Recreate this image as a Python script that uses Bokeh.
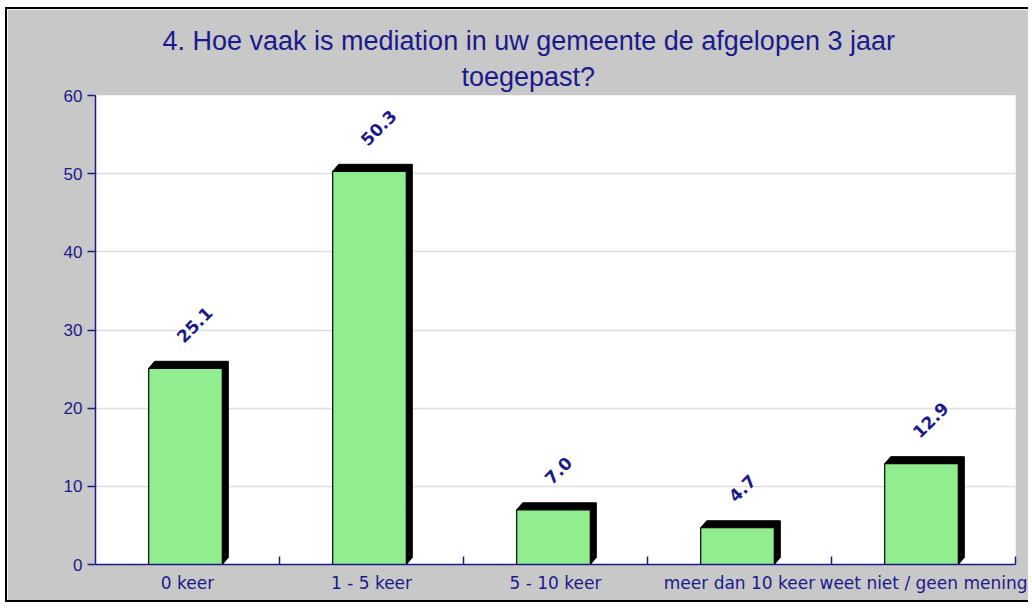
from bokeh.plotting import figure
from bokeh.models import Range1d, FixedTicker, Title, CustomJSTickFormatter
from bokeh.embed import file_html
from bokeh.resources import INLINE
from bokeh.core.properties import value

# ---- data ----
title_lines = ["4. Hoe vaak is mediation in uw gemeente de afgelopen 3 jaar", "toegepast?"]
categories = ["0 keer", "1 - 5 keer", "5 - 10 keer", "meer dan 10 keer", "weet niet / geen mening"]
values = [25.1, 50.3, 7.0, 4.7, 12.9]
y_ticks = [0, 10, 20, 30, 40, 50, 60]

# ---- styling / layout constants ----
NAVY = "#1a1a8c"
BG = "#c8c8c8"
GREEN = "#90ee90"
W, H = 1023, 595
ML, MT, MR, MB = 88, 86, 15, 40
frame_w = W - ML - MR
frame_h = H - MT - MB
n = len(categories)
x_lo, x_hi = -0.5, n - 0.5
y_lo, y_hi = 0, 60
px_x = (x_hi - x_lo) / frame_w
px_y = (y_hi - y_lo) / frame_h

p = figure(width=W, height=H, output_backend="svg", toolbar_location=None,
           x_range=Range1d(x_lo, x_hi), y_range=Range1d(y_lo, y_hi),
           min_border_left=ML, min_border_top=MT, min_border_right=MR, min_border_bottom=MB,
           background_fill_color="white", border_fill_color=BG,
           margin=(7, 0, 0, 5),
           styles={"border-left": "2px solid black", "border-top": "2px solid black",
                   "border-bottom": "2px solid black", "border-right": "0px none"})
p.outline_line_color = None
p.xgrid.grid_line_color = None
p.ygrid.grid_line_color = "#dedede"
p.ygrid.grid_line_width = 1.5

# 3D shadow behind each bar
bw = 0.4
shift = -2 * px_x
dx = 6 * px_x
dy = 7 * px_y
xc = [i + shift for i in range(n)]
xs, ys = [], []
for c, v in zip(xc, values):
    x0, x1 = c - bw / 2, c + bw / 2
    xs.append([x0, x0 + dx, x1 + dx, x1 + dx, x1])
    ys.append([v, v + dy, v + dy, dy, 0])
p.patches(xs, ys, fill_color="black", line_color="black", line_width=1)

p.vbar(x=xc, top=values, width=bw, bottom=0,
       fill_color=GREEN, line_color="black", line_width=1.2)

p.text(x=xc, y=values, text=[f"{v:.1f}" for v in values],
       angle=45, angle_units="deg", text_align="left", text_baseline="middle",
       x_offset=-6, y_offset=-29, text_color=NAVY,
       text_font=value("DejaVu Sans"), text_font_style="bold", text_font_size="17px")

# axes
p.yaxis.ticker = FixedTicker(ticks=y_ticks)
p.yaxis.major_tick_out = 8
p.yaxis.major_tick_in = 0
p.yaxis.minor_tick_out = 0
p.yaxis.minor_tick_in = 0
p.yaxis.axis_line_color = NAVY
p.yaxis.axis_line_width = 1.5
p.yaxis.major_tick_line_color = NAVY
p.yaxis.major_tick_line_width = 1.5
p.yaxis.major_label_text_color = NAVY
p.yaxis.major_label_text_font = "Liberation Sans"
p.yaxis.major_label_text_font_size = "17px"
p.yaxis.major_label_standoff = 5

p.xaxis.ticker = FixedTicker(ticks=list(range(n)), minor_ticks=[i + 0.5 for i in range(n)])
p.xaxis.formatter = CustomJSTickFormatter(args=dict(cats=categories),
                                          code="const c = cats[Math.round(tick)]; return c === undefined ? '' : c;")
p.xaxis.major_tick_in = 0
p.xaxis.major_tick_out = 0
p.xaxis.minor_tick_in = 8
p.xaxis.minor_tick_out = 0
p.xaxis.minor_tick_line_color = NAVY
p.xaxis.minor_tick_line_width = 1.5
p.xaxis.axis_line_color = NAVY
p.xaxis.axis_line_width = 1.5
p.xaxis.major_label_text_color = NAVY
p.xaxis.major_label_text_font = "DejaVu Sans"
p.xaxis.major_label_text_font_size = "17px"
p.xaxis.major_label_standoff = 8

# title: two lines as stacked Title annotations (first added = nearest the frame)
title_offsets = [366, 67]
title_standoffs = [8, 0]
for line, off, so in zip(reversed(title_lines), title_offsets, title_standoffs):
    p.add_layout(Title(text=line, align="left", offset=off, standoff=so,
                       text_color=NAVY, text_font="Liberation Sans",
                       text_font_size="27px", text_font_style="normal"), "above")

open("out.html", "w").write(file_html(p, INLINE))
